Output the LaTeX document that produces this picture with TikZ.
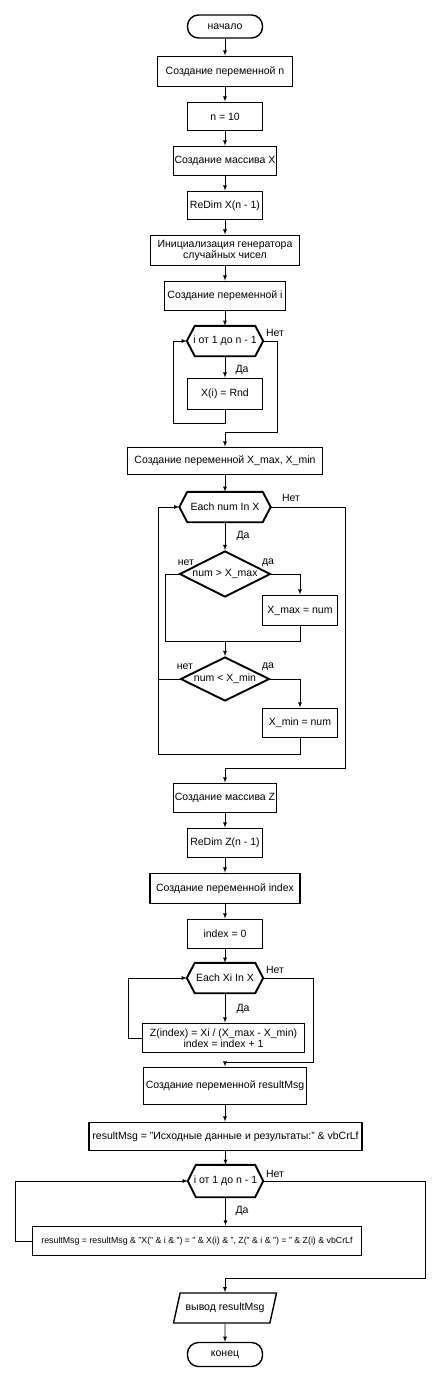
\documentclass[tikz,border=0pt]{standalone}
\usepackage{fontspec}
\setmainfont{Liberation Sans}
\usetikzlibrary{shapes.geometric}

% шестиугольник цикла: имя, x, y, ширина, высота, текст
\newcommand{\hexblock}[6]{%
  \node[hexa, minimum width=#4pt, minimum height=#5pt] (#1) at (#2,#3) {#6};
  \draw[line width=1.9pt] ([xshift=8pt]#1.north west) -- ([xshift=-8pt]#1.north east) -- (#1.east)
    -- ([xshift=-8pt]#1.south east) -- ([xshift=8pt]#1.south west) -- (#1.west) -- cycle;}

\begin{document}
\begin{tikzpicture}[>=latex, x=1pt, y=-1pt,
  every node/.style={font=\fontsize{10.5}{11.5}\selectfont},
  proc/.style={draw, line width=1.9pt, inner sep=1pt, align=center},
  term/.style={draw, line width=1.4pt, rounded corners=11pt, minimum width=75pt, minimum height=23pt},
  hexa/.style={inner sep=1pt},
  cond/.style={draw, line width=1.9pt, diamond, aspect=2, inner sep=0pt},
  io/.style={draw, line width=1.4pt, trapezium, trapezium left angle=69, trapezium right angle=111,
    trapezium stretches=true, minimum width=104pt, minimum height=30pt},
  lbl/.style={inner sep=0pt},
  link/.style={->, line width=0.8pt},
  wire/.style={line width=0.8pt}]
\useasboundingbox (0,0) rectangle (443,1380);

% начало и подготовка
\node[term] (start) at (225,26.5) {начало};
\node[proc, minimum width=135pt, minimum height=30pt] (varn) at (225,71.5) {Создание переменной n};
\node[proc, minimum width=75pt, minimum height=28pt] (setn) at (225,116.5) {n = 10};
\node[proc, minimum width=103pt, minimum height=29pt] (arrx) at (225,161) {Создание массива X};
\node[proc, minimum width=75pt, minimum height=28pt] (dimx) at (225,205.5) {ReDim X(n - 1)};
\node[proc, minimum width=149pt, minimum height=30pt] (rnd) at (225,250.5) {Инициализация генератора\\случайных чисел};
\node[proc, minimum width=121pt, minimum height=29pt] (vari) at (225,296) {Создание переменной i};
\draw[link] (start) -- (varn);
\draw[link] (varn) -- (setn);
\draw[link] (setn) -- (arrx);
\draw[link] (arrx) -- (dimx);
\draw[link] (dimx) -- (rnd);
\draw[link] (rnd) -- (vari);

% цикл заполнения X
\hexblock{fill}{225}{341}{76}{30}{i от 1 до n - 1}
\node[proc, minimum width=75pt, minimum height=31pt] (setx) at (225,394) {X(i) = Rnd};
\node[proc, minimum width=195pt, minimum height=27pt] (varmm) at (225,461) {Создание переменной X\_max, X\_min};
\draw[link] (vari) -- (fill);
\draw[link] (fill) -- (setx);
\node[lbl] (fillyes) at (242,370) {Да};
\node[lbl] (fillno) at (275,333) {Нет};
\draw[link] (setx.south) |- (173,423) |- (fill.west);
\draw[link] (fill.east) -| (277,432) -| (varmm.north);

% поиск X_max, X_min
\hexblock{each}{225}{507}{91}{30}{Each num In X}
\node[cond, minimum width=91pt, minimum height=46pt] (gt) at (225,574) {num > X\_max};
\node[proc, minimum width=75pt, minimum height=30pt] (setmax) at (300,610.5) {X\_max = num};
\node[cond, minimum width=89pt, minimum height=44pt] (lt) at (225,679) {num < X\_min};
\node[proc, minimum width=75pt, minimum height=29pt] (setmin) at (300,723) {X\_min = num};
\coordinate (join) at (225,641);
\draw[link] (varmm) -- (each);
\draw[link] (each) -- (gt);
\node[lbl] (eachyes) at (243,536) {Да};
\node[lbl] (eachno) at (291,498) {Нет};
\draw[link] (gt.east) -| (setmax.north);
\draw[wire] (gt.west) -| (165,641) -| (setmax.south);
\node[lbl] (gtno) at (186,563) {нет};
\node[lbl] (gtyes) at (268,563) {да};
\draw[link] (join) -- (lt.north);
\draw[link] (lt.east) -| (setmin.north);
\draw[wire] (lt.west) -- (158,679);
\node[lbl] (ltno) at (185,667) {нет};
\node[lbl] (ltyes) at (268,667) {да};
\draw[link] (setmin.south) |- (158,754) |- (each.west);

% массив Z
\node[proc, minimum width=103pt, minimum height=29pt] (arrz) at (225,798) {Создание массива Z};
\node[proc, minimum width=75pt, minimum height=29pt] (dimz) at (225,843) {ReDim Z(n - 1)};
\node[proc, minimum width=150pt, minimum height=30pt] (varidx) at (225,888.5) {Создание переменной index};
\node[proc, minimum width=75pt, minimum height=29pt] (setidx) at (225,934) {index = 0};
\draw[link] (each.east) -| (345,768) -| (arrz.north);
\draw[link] (arrz) -- (dimz);
\draw[link] (dimz) -- (varidx);
\draw[link] (varidx) -- (setidx);

% нормирование
\hexblock{eachxi}{225}{978}{76}{30}{Each Xi In X}
\node[proc, minimum width=162pt, minimum height=29pt] (norm) at (223.5,1038) {Z(index) = Xi / (X\_max - X\_min)\\index = index + 1};
\draw[link] (setidx) -- (eachxi);
\draw[link] (eachxi.south) -- (eachxi.south |- norm.north);
\node[lbl] (xiyes) at (243,1009) {Да};
\node[lbl] (xino) at (275,970) {Нет};
\draw[link] (norm.west) -| (128,978) -- (eachxi.west);

% вывод результатов
\node[proc, minimum width=163pt, minimum height=37pt] (varmsg) at (225,1086) {Создание переменной resultMsg};
\node[proc, minimum width=273pt, minimum height=28pt] (initmsg) at (225.5,1136.5) {resultMsg = "Исходные данные и результаты:" \& vbCrLf};
\hexblock{out}{225.5}{1181}{75}{32}{i от 1 до n - 1}
\node[proc, minimum width=329pt, minimum height=29pt, font=\fontsize{8.8}{10}\selectfont] (addmsg) at (197,1241) {resultMsg = resultMsg \& "X(" \& i \& ") = " \& X(i) \& ", Z(" \& i \& ") = " \& Z(i) \& vbCrLf};
\node[io] (show) at (225,1308) {вывод resultMsg};
\node[term, minimum height=24pt] (stop) at (225,1354.5) {конец};
\draw[link] (eachxi.east) -| (313,1062) -| (varmsg.north);
\draw[link] (varmsg) -- (initmsg.north -| varmsg.south);
\draw[link] (initmsg.south -| out.north) -- (out.north);
\draw[link] (out.south) -- (out.south |- addmsg.north);
\node[lbl] (outyes) at (242,1211) {Да};
\node[lbl] (outno) at (275,1174) {Нет};
\draw[link] (addmsg.west) -| (15,1181) -- (out.west);
\draw[link] (out.east) -| (425,1278) -| (show.north);
\draw[link] (show) -- (stop);
\end{tikzpicture}
\end{document}
